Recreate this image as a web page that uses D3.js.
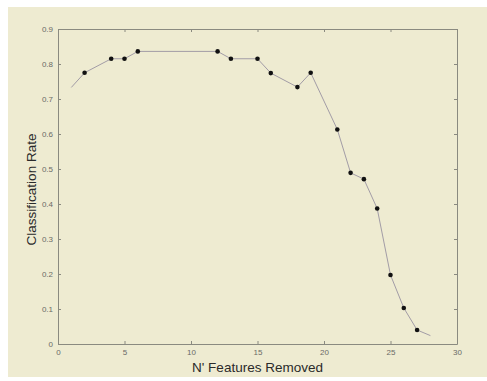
<!DOCTYPE html>
<html>
<head>
<meta charset="utf-8">
<script src="https://cdn.jsdelivr.net/npm/d3@7"></script>
<style>
  html, body { margin: 0; padding: 0; background: #fff; }
  svg { display: block; font-family: "Liberation Sans", Arial, sans-serif; }
</style>
</head>
<body>
<figure id="chart" style="margin:0"></figure>
<script>
// features removed (x) and classification rate (y) for the marked points
const featuresRemoved = [2, 4, 5, 6, 12, 13, 15, 16, 18, 19, 21, 22, 23, 24, 25, 26, 27];
const classRate = [0.775, 0.815, 0.815, 0.836, 0.836, 0.815, 0.815, 0.774, 0.734, 0.775, 0.613, 0.489, 0.471, 0.387, 0.197, 0.103, 0.040];
// the curve runs a little past the first and last marker
const lineStart = [1, 0.733];
const lineEnd = [28, 0.024];
const xTicks = [0, 5, 10, 15, 20, 25, 30];
const yTicks = [0, 0.1, 0.2, 0.3, 0.4, 0.5, 0.6, 0.7, 0.8, 0.9];

const width = 487, height = 381;
const margin = { top: 29, right: 30, bottom: 37, left: 58 };
const plotW = width - margin.left - margin.right;
const plotH = height - margin.top - margin.bottom;

const svg = d3.select('#chart')
  .append('svg')
  .attr('width', width)
  .attr('height', height);

// cream backdrop
svg.append('rect')
  .attr('x', 8).attr('y', 7)
  .attr('width', width - 8).attr('height', 370)
  .attr('fill', '#eeebd1');

const g = svg.append('g')
  .attr('transform', 'translate(' + margin.left + ',' + margin.top + ')');

const x = d3.scaleLinear().domain([0, 30]).range([0, plotW]);
const y = d3.scaleLinear().domain([0, 0.9]).range([plotH, 0]);

// axes, ticks pointing inward on all four sides
function styleAxis(sel) {
  sel.select('.domain').attr('stroke', '#8a8a80');
  sel.selectAll('.tick line').attr('stroke', '#8a8a80');
  sel.selectAll('.tick text').attr('fill', '#6a6a66').style('font-size', '8px');
}

g.append('g')
  .attr('transform', 'translate(0,' + plotH + ')')
  .call(d3.axisBottom(x).tickValues(xTicks).tickSize(-3).tickPadding(5).tickSizeOuter(0))
  .call(styleAxis);

g.append('g')
  .call(d3.axisLeft(y).tickValues(yTicks).tickSize(-3).tickPadding(5).tickSizeOuter(0)
    .tickFormat(d => d === 0 ? '0' : d3.format('.1f')(d)))
  .call(styleAxis);

g.append('g')
  .call(d3.axisTop(x).tickValues(xTicks).tickSize(-3).tickFormat('').tickSizeOuter(0))
  .call(styleAxis);

g.append('g')
  .attr('transform', 'translate(' + plotW + ',0)')
  .call(d3.axisRight(y).tickValues(yTicks).tickSize(-3).tickFormat('').tickSizeOuter(0))
  .call(styleAxis);

// the curve
const linePts = [lineStart]
  .concat(featuresRemoved.map((d, i) => [d, classRate[i]]))
  .concat([lineEnd]);

g.append('path')
  .datum(linePts)
  .attr('fill', 'none')
  .attr('stroke', '#a29ca6')
  .attr('stroke-width', 1)
  .attr('d', d3.line()
    .x(d => x(d[0]))
    .y(d => y(d[1])));

// markers
g.selectAll('.pt')
  .data(featuresRemoved)
  .enter()
  .append('circle')
  .attr('class', 'pt')
  .attr('cx', d => x(d))
  .attr('cy', (d, i) => y(classRate[i]))
  .attr('r', 2.3)
  .attr('fill', '#111');

// axis titles
svg.append('text')
  .attr('x', margin.left + plotW / 2)
  .attr('y', 372)
  .attr('text-anchor', 'middle')
  .attr('fill', '#2a2a2a')
  .style('font-size', '13.5px')
  .text("N' Features Removed");

svg.append('text')
  .attr('transform', 'translate(36,' + (margin.top + plotH / 2 + 3) + ') rotate(-90)')
  .attr('text-anchor', 'middle')
  .attr('fill', '#2a2a2a')
  .style('font-size', '13.5px')
  .text('Classification Rate');
</script>
</body>
</html>
